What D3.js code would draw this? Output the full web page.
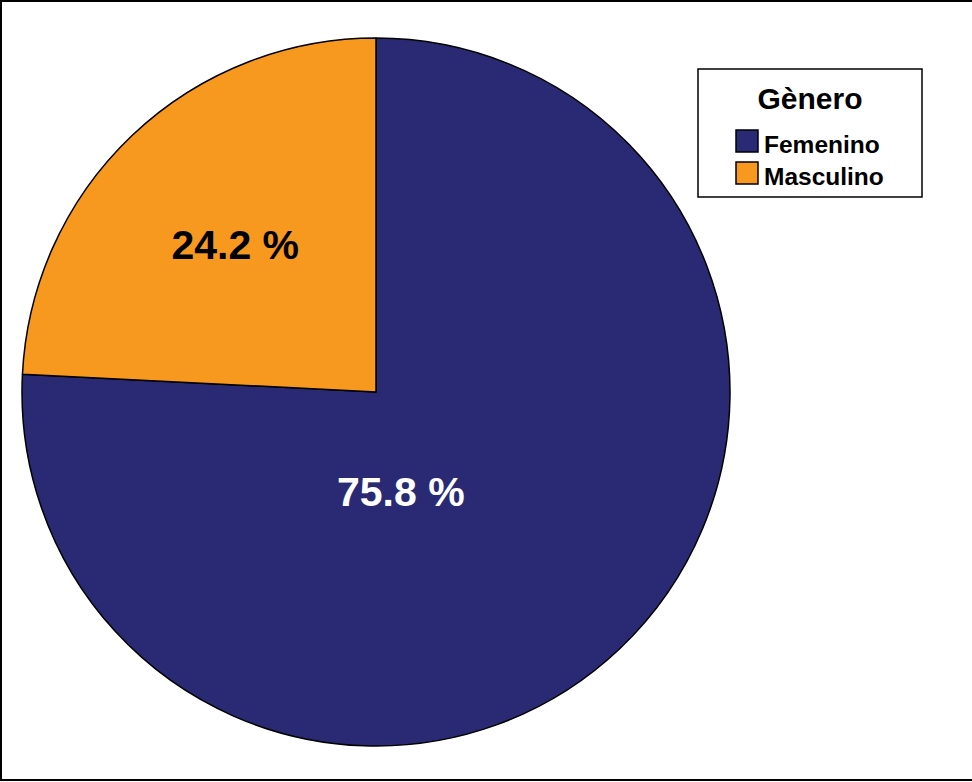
<!DOCTYPE html>
<html>
<head>
<meta charset="utf-8">
<script src="https://cdn.jsdelivr.net/npm/d3@7"></script>
<style>
  body { margin: 0; background: #fff; }
  text { font-family: "Liberation Sans", Arial, sans-serif; font-weight: bold; }
</style>
</head>
<body>
<div id="chart"></div>
<script>
  // data
  var categories = ["Femenino", "Masculino"]
  var values = [75.8, 24.2]
  var labels = ["75.8 %", "24.2 %"]
  var colors = ["#292a73", "#f7981f"]
  var labelColors = ["#ffffff", "#000000"]
  var legendTitle = "Gènero"

  var width = 972, height = 782
  var cx = 376, cy = 392, radius = 354

  var svg = d3.select("#chart").append("svg")
      .attr("width", width)
      .attr("height", height)

  // outer frame
  svg.append("rect")
      .attr("x", 1).attr("y", 1)
      .attr("width", width + 4).attr("height", height - 3)
      .attr("fill", "#fff")
      .attr("stroke", "#000")
      .attr("stroke-width", 2)

  var data = categories.map(function(c, i) {
    return {name: c, value: values[i], label: labels[i], color: colors[i], textColor: labelColors[i]}
  })

  var pie = d3.pie().sort(null).value(function(d) { return d.value })
  var arc = d3.arc().innerRadius(0).outerRadius(radius)
  // label arc for the small slice, at ~58% of the radius
  var labelArc = d3.arc().innerRadius(radius * 0.577).outerRadius(radius * 0.577)

  var g = svg.append("g")
      .attr("transform", "translate(" + cx + "," + cy + ")")

  var arcs = pie(data)

  g.selectAll(".slice")
      .data(arcs)
    .enter().append("path")
      .attr("class", "slice")
      .attr("d", arc)
      .attr("fill", function(d) { return d.data.color })
      .attr("stroke", "#000")
      .attr("stroke-width", 1.5)
      .attr("stroke-linejoin", "round")

  // labels: big slice label sits below centre, small one along its mid angle
  g.selectAll(".lbl")
      .data(arcs)
    .enter().append("text")
      .attr("class", "lbl")
      .attr("x", function(d, i) {
        if (i == 0) return radius * 0.07
        return labelArc.centroid(d)[0]
      })
      .attr("y", function(d, i) {
        if (i == 0) return radius * 0.28
        return labelArc.centroid(d)[1]
      })
      .attr("dy", "0.36em")
      .attr("text-anchor", "middle")
      .attr("font-size", 41)
      .attr("fill", function(d) { return d.data.textColor })
      .text(function(d) { return d.data.label })

  // legend
  var legend = svg.append("g").attr("transform", "translate(698,69)")

  legend.append("rect")
      .attr("width", 224).attr("height", 128)
      .attr("fill", "#fff")
      .attr("stroke", "#000")
      .attr("stroke-width", 1.5)

  legend.append("text")
      .attr("x", 112).attr("y", 40)
      .attr("text-anchor", "middle")
      .attr("font-size", 30)
      .text(legendTitle)

  var item = legend.selectAll(".item")
      .data(data)
    .enter().append("g")
      .attr("class", "item")
      .attr("transform", function(d, i) { return "translate(38," + (61 + i * 32) + ")" })

  item.append("rect")
      .attr("width", 22).attr("height", 22)
      .attr("fill", function(d) { return d.color })
      .attr("stroke", "#000")
      .attr("stroke-width", 1.5)

  item.append("text")
      .attr("x", 28).attr("y", 23)
      .attr("font-size", 24.5)
      .text(function(d) { return d.name })
</script>
</body>
</html>
